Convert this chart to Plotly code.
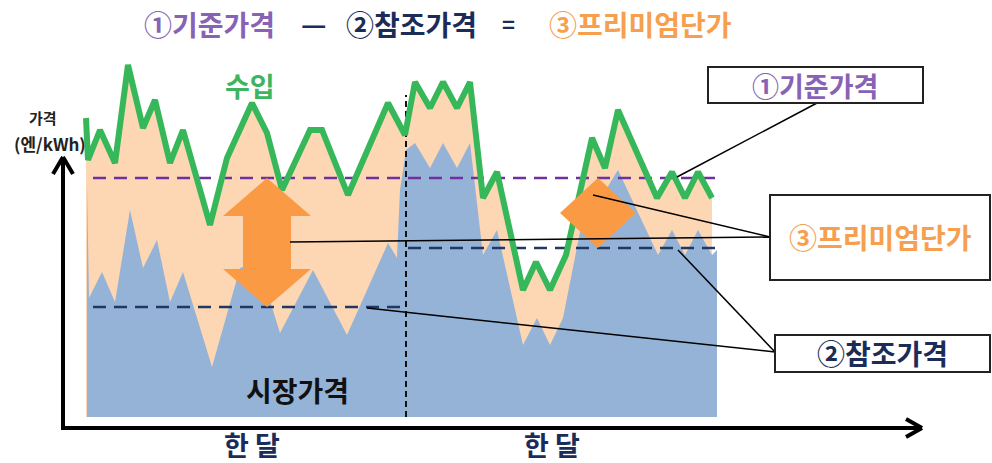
import plotly.graph_objects as go

# ---- data (x = time, y = price; 0 is the price floor of the sketch) ----
income_x = [86, 88, 100, 115, 128, 143, 155, 170, 183, 210, 227, 252, 267, 282, 310, 322,
            348, 388, 405, 415, 430, 443, 457, 470, 483, 497, 523, 536, 550, 566, 592, 605,
            618, 657, 672, 685, 698, 712]
income_y = [299, 257, 287, 254, 352, 289, 317, 254, 287, 192, 259, 314, 284, 227, 287, 287,
            222, 314, 282, 335, 309, 335, 309, 335, 219, 245, 127, 155, 127, 162, 279, 249,
            307, 219, 245, 219, 245, 219]

market_x = [87, 89, 102, 115, 130, 143, 157, 170, 183, 212, 240, 258, 280, 313, 347, 388,
            397, 400, 406, 415, 430, 443, 457, 470, 483, 497, 523, 537, 550, 563, 580, 618,
            658, 672, 685, 698, 712, 717]
market_y = [232, 119, 145, 115, 207, 149, 177, 115, 145, 50, 149, 155, 84, 147, 82, 174,
            159, 227, 267, 274, 249, 274, 249, 274, 162, 187, 72, 99, 72, 99, 185, 247,
            162, 187, 162, 187, 162, 167]

base_price = 239                 # ① 기준가격
ref_price = [110, 169]           # ② 참조가격 (month 1, month 2)
month_divider = 406
month_label = ["한 달", "한 달"]

PEACH = "#fdd6b3"
BLUE = "#95b3d7"
GREEN = "#36b85a"
PURPLE = "#7030a0"
NAVY = "#1f3864"
ORANGE = "#fb9a45"
TXT_PURPLE = "#8762b5"
TXT_NAVY = "#1b2c58"
TXT_ORANGE = "#f6a04f"
FONT = "Noto Sans CJK KR"

fig = go.Figure()

# income area and market-price area
fig.add_trace(go.Scatter(x=income_x, y=income_y, mode="none", fill="tozeroy",
                         fillcolor=PEACH, hoverinfo="skip"))
fig.add_trace(go.Scatter(x=market_x, y=market_y, mode="none", fill="tozeroy",
                         fillcolor=BLUE, hoverinfo="skip"))

# reference levels
fig.add_trace(go.Scatter(x=[93, 720], y=[base_price, base_price], mode="lines",
                         line=dict(color=PURPLE, width=2.5, dash="13px,8px"), hoverinfo="skip"))
for (x0, x1), rp in zip([(93, 405), (408, 718)], ref_price):
    fig.add_trace(go.Scatter(x=[x0, x1], y=[rp, rp], mode="lines",
                             line=dict(color=NAVY, width=2.5, dash="13px,8px"), hoverinfo="skip"))

# divider between the two months
fig.add_trace(go.Scatter(x=[month_divider, month_divider], y=[0, 322], mode="lines",
                         line=dict(color="#111111", width=2, dash="6px,4px"), hoverinfo="skip"))

# income line
fig.add_trace(go.Scatter(x=income_x, y=income_y, mode="lines",
                         line=dict(color=GREEN, width=6), hoverinfo="skip"))

# premium (base - reference): double arrow in month 1
cx, hw, sw, hl = 267, 44, 24, 38
top, bot = base_price, ref_price[0]
ax = [cx, cx + hw, cx + sw, cx + sw, cx + hw, cx, cx - hw, cx - sw, cx - sw, cx - hw, cx]
ay = [top, top - hl, top - hl, bot + hl, bot + hl, bot, bot + hl, bot + hl, top - hl, top - hl, top]
fig.add_trace(go.Scatter(x=ax, y=ay, mode="none", fill="toself", fillcolor=ORANGE,
                         hoverinfo="skip"))

# premium in month 2: diamond
dx, dw = 598, 38
top2, bot2 = base_price, ref_price[1]
mid2 = (top2 + bot2) / 2
fig.add_trace(go.Scatter(x=[dx, dx + dw, dx, dx - dw, dx], y=[top2, mid2, bot2, mid2, top2],
                         mode="none", fill="toself", fillcolor=ORANGE, hoverinfo="skip"))

shapes = []
# axes with arrowheads
shapes += [
    dict(type="line", x0=63, y0=-11, x1=63, y1=259, line=dict(color="black", width=4)),
    dict(type="line", x0=53, y0=243, x1=63, y1=260, line=dict(color="black", width=4)),
    dict(type="line", x0=73, y0=243, x1=63, y1=260, line=dict(color="black", width=4)),
    dict(type="line", x0=61, y0=-11, x1=921, y1=-11, line=dict(color="black", width=4)),
    dict(type="line", x0=906, y0=-2, x1=922, y1=-11, line=dict(color="black", width=4)),
    dict(type="line", x0=906, y0=-20, x1=922, y1=-11, line=dict(color="black", width=4)),
]
# callout lines
for (x0, y0, x1, y1) in [(817, 314, 677, 240), (290, 175, 770, 180), (593, 222, 770, 180),
                         (367, 109, 775, 65), (678, 167, 775, 65)]:
    shapes.append(dict(type="line", x0=x0, y0=y0, x1=x1, y1=y1,
                       line=dict(color="black", width=1.5)))
# label boxes
for (x0, y0, x1, y1) in [(708, 314, 923, 350), (770, 137, 990, 222), (775, 45, 990, 82)]:
    shapes.append(dict(type="rect", x0=x0, y0=y0, x1=x1, y1=y1, fillcolor="white",
                       line=dict(color="#222222", width=2)))

ann = []


def txt(x, y, s, color, size):
    ann.append(dict(x=x, y=y, text="<b>%s</b>" % s, showarrow=False, xanchor="center",
                    yanchor="middle", font=dict(family=FONT, size=size, color=color)))


# headline formula
txt(209, 393, "①기준가격", TXT_PURPLE, 28)
txt(313, 394, "—", TXT_NAVY, 28)
txt(411, 393, "②참조가격", TXT_NAVY, 28)
txt(508, 394, "=", TXT_NAVY, 22)
txt(640, 393, "③프리미엄단가", TXT_ORANGE, 28)
# in-chart labels
txt(250, 332, "수입", "#3db45f", 27)
txt(297, 27, "시장가격", "#111111", 28)
txt(43, 300, "가격", "#222222", 15)
txt(50, 274, "(엔/kWh)", "#222222", 17)
txt(252, -27, month_label[0], TXT_NAVY, 27)
txt(552, -27, month_label[1], TXT_NAVY, 27)
# box labels
txt(815, 332, "①기준가격", TXT_PURPLE, 27)
txt(880, 180, "③프리미엄단가", TXT_ORANGE, 28)
txt(882, 64, "②참조가격", TXT_NAVY, 28)

fig.update_layout(
    width=992, height=463, margin=dict(l=0, r=0, t=0, b=0),
    paper_bgcolor="white", plot_bgcolor="white", showlegend=False,
    shapes=shapes, annotations=ann,
    xaxis=dict(range=[0, 992], visible=False, fixedrange=True),
    yaxis=dict(range=[-46, 417], visible=False, fixedrange=True),
)

fig.write_html("out.html", config={"displayModeBar": False})
